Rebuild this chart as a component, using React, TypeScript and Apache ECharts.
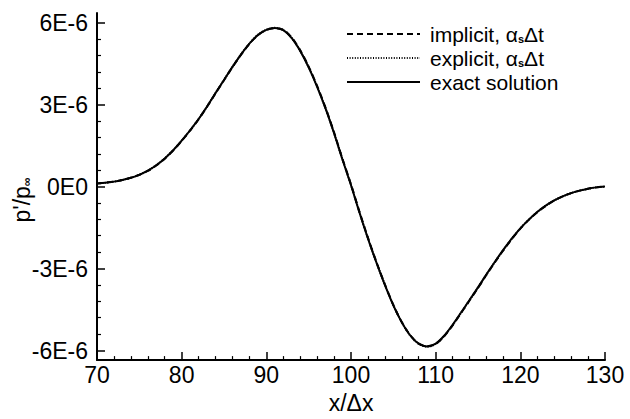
import React, { useEffect, useRef } from 'react';
import * as echarts from 'echarts';

// x/Δx positions
const xValues = [
  70, 71, 72, 73, 74, 75, 76, 77, 78, 79,
  80, 81, 82, 83, 84, 85, 86, 87, 88, 89,
  90, 91, 92, 93, 94, 95, 96, 97, 98, 99,
  100, 101, 102, 103, 104, 105, 106, 107, 108, 109,
  110, 111, 112, 113, 114, 115, 116, 117, 118, 119,
  120, 121, 122, 123, 124, 125, 126, 127, 128, 129, 130,
];

// p'/p∞ in units of 1E-6
const exactSolution = [
  0.11, 0.14, 0.18, 0.24, 0.32, 0.43, 0.58, 0.78, 1.03, 1.33,
  1.68, 2.06, 2.47, 2.93, 3.42, 3.9, 4.38, 4.83, 5.23, 5.54,
  5.73, 5.8, 5.72, 5.43, 4.96, 4.36, 3.65, 2.85, 1.95, 0.98,
  0.05, -0.95, -1.9, -2.78, -3.6, -4.35, -4.97, -5.45, -5.75, -5.85,
  -5.75, -5.46, -5.06, -4.61, -4.15, -3.69, -3.21, -2.75, -2.31, -1.9,
  -1.53, -1.21, -0.93, -0.7, -0.51, -0.36, -0.24, -0.15, -0.08, -0.03, 0.0,
];
const implicitScheme = [
  0.11, 0.14, 0.18, 0.24, 0.32, 0.43, 0.57, 0.77, 1.02, 1.32,
  1.67, 2.05, 2.46, 2.92, 3.41, 3.89, 4.37, 4.82, 5.22, 5.54,
  5.73, 5.79, 5.73, 5.45, 4.99, 4.39, 3.68, 2.88, 1.98, 1.01,
  0.08, -0.92, -1.87, -2.76, -3.58, -4.33, -4.96, -5.44, -5.75, -5.84,
  -5.76, -5.48, -5.08, -4.63, -4.17, -3.71, -3.23, -2.77, -2.33, -1.92,
  -1.54, -1.22, -0.94, -0.71, -0.51, -0.36, -0.24, -0.15, -0.08, -0.03, 0.0,
];
const explicitScheme = [
  0.11, 0.14, 0.18, 0.24, 0.32, 0.43, 0.58, 0.78, 1.03, 1.33,
  1.68, 2.06, 2.47, 2.93, 3.42, 3.9, 4.38, 4.83, 5.23, 5.55,
  5.74, 5.81, 5.73, 5.44, 4.97, 4.37, 3.66, 2.86, 1.96, 0.99,
  0.06, -0.94, -1.89, -2.77, -3.59, -4.34, -4.97, -5.45, -5.76, -5.86,
  -5.76, -5.47, -5.07, -4.62, -4.16, -3.7, -3.22, -2.76, -2.32, -1.91,
  -1.53, -1.21, -0.93, -0.7, -0.51, -0.36, -0.24, -0.15, -0.08, -0.03, 0.0,
];

const yTickValues = [-6, -3, 0, 3, 6];
const yTickLabels = ['-6E-6', '-3E-6', '0E0', '3E-6', '6E-6'];
const yMinorTickValues = [
  -5.4, -4.8, -4.2, -3.6, -2.4, -1.8, -1.2, -0.6,
  0.6, 1.2, 1.8, 2.4, 3.6, 4.2, 4.8, 5.4,
];
const seriesNames = ['implicit', 'explicit', 'exact solution'];

const FONT = '"Liberation Sans", Arial, Helvetica, sans-serif';
const FS = 23;
const LFS = 21;

export default function App() {
  const ref = useRef<HTMLDivElement>(null);

  useEffect(() => {
    if (!ref.current) return;
    const chart = echarts.init(ref.current, undefined, { renderer: 'svg' });

    const pairs = (ys: number[]) => xValues.map((x, i) => [x, ys[i]]);
    const rows = [34, 58, 82];
    const legendX0 = 347;
    const legendX1 = 420;
    const dashes: (number[] | null)[] = [[6, 4], [1, 1.6], null];
    const legendTexts = [
      '{n|implicit, α}{s|s}{n|Δt}',
      '{n|explicit, α}{s|s}{n|Δt}',
      '{n|exact solution}',
    ];
    const richLegend = {
      n: { fontSize: LFS, fontFamily: FONT, fill: '#000', color: '#000', lineHeight: 20 },
      s: { fontSize: 11, fontFamily: FONT, fontWeight: 'bold', fill: '#000', color: '#000', lineHeight: 9, verticalAlign: 'bottom' },
    };
    const richTitle = {
      n: { fontSize: FS, fontFamily: FONT, fill: '#000', color: '#000', lineHeight: 22 },
      s: { fontSize: 12, fontFamily: FONT, fontWeight: 'bold', fill: '#000', color: '#000', lineHeight: 10, verticalAlign: 'bottom' },
    };

    const graphics: any[] = [];
    rows.forEach((y, i) => {
      const ls: any = { stroke: '#000', lineWidth: 2 };
      if (dashes[i]) ls.lineDash = dashes[i];
      graphics.push({
        type: 'line',
        shape: { x1: legendX0, y1: y, x2: legendX1, y2: y },
        style: ls,
      });
      graphics.push({
        type: 'text',
        x: 430,
        y: y,
        style: {
          text: legendTexts[i],
          rich: richLegend,
          fill: '#000',
          textAlign: 'left',
          align: 'left',
          textVerticalAlign: 'middle',
          verticalAlign: 'middle',
        },
      });
    });
    graphics.push({
      type: 'text',
      x: 22,
      y: 200,
      rotation: Math.PI / 2,
      style: {
        text: "{n|p'/p}{s|∞}",
        rich: richTitle,
        fill: '#000',
        textAlign: 'center',
        align: 'center',
        textVerticalAlign: 'middle',
        verticalAlign: 'middle',
      },
    });

    const styles: any[] = [
      { type: [6, 4], width: 2 },
      { type: [1, 1.6], width: 2 },
      { type: 'solid', width: 2 },
    ];
    const datasets = [implicitScheme, explicitScheme, exactSolution];

    chart.setOption({
      animation: false,
      backgroundColor: '#fff',
      grid: { left: 97, right: 25, top: 13, bottom: 48 },
      xAxis: {
        type: 'value',
        min: 70,
        max: 130,
        interval: 10,
        name: 'x/Δx',
        nameLocation: 'middle',
        nameGap: 25,
        nameTextStyle: { fontSize: FS, fontFamily: FONT, color: '#000' },
        axisLine: { show: true, onZero: false, lineStyle: { color: '#000', width: 2 } },
        axisTick: { show: true, inside: true, length: 8, lineStyle: { color: '#000', width: 1.5 } },
        minorTick: { show: true, splitNumber: 5, length: 4, lineStyle: { color: '#000', width: 1.2 } },
        axisLabel: { fontSize: FS, fontFamily: FONT, color: '#000', margin: 3 },
        splitLine: { show: false },
      },
      yAxis: [
        {
          type: 'value',
          min: -6.35,
          max: 6.35,
          position: 'left',
          axisLine: { show: true, onZero: false, lineStyle: { color: '#000', width: 2 } },
          axisTick: {
            show: true,
            inside: true,
            length: 8,
            customValues: yTickValues,
            lineStyle: { color: '#000', width: 1.5 },
          },
          axisLabel: {
            fontSize: FS,
            fontFamily: FONT,
            color: '#000',
            margin: 9,
            customValues: yTickValues,
            formatter: (v: number) => {
              const idx = yTickValues.findIndex((t) => Math.abs(t - v) < 1e-9);
              return idx >= 0 ? yTickLabels[idx] : '';
            },
          },
          splitLine: { show: false },
        },
        {
          type: 'value',
          min: -6.35,
          max: 6.35,
          position: 'left',
          axisLine: { show: false },
          axisTick: {
            show: true,
            inside: true,
            length: 4,
            customValues: yMinorTickValues,
            lineStyle: { color: '#000', width: 1.2 },
          },
          axisLabel: { show: false },
          splitLine: { show: false },
        },
      ],
      series: datasets.map((d, i) => ({
        name: seriesNames[i],
        type: 'line',
        data: pairs(d),
        showSymbol: false,
        smooth: 0.3,
        lineStyle: { color: '#000', ...styles[i] },
        z: 3 + i,
      })),
      graphic: graphics,
    });

    return () => chart.dispose();
  }, []);

  return (
    <div
      ref={ref}
      style={{ position: 'absolute', left: 0, top: 0, width: 630, height: 419 }}
    />
  );
}
